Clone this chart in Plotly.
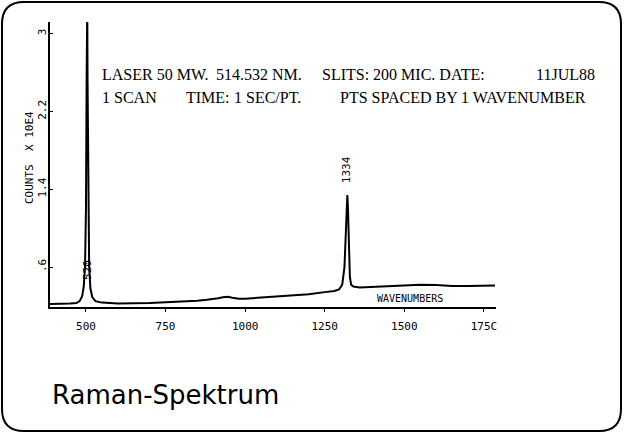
import plotly.graph_objects as go

# ---- data ----
wavenumbers = [387, 420, 450, 470, 480, 488, 493, 497, 500, 502, 503, 504, 505, 507, 510, 514, 520, 530, 550,
               600, 650, 700, 750, 800, 850, 880, 900, 915, 930, 945, 960, 980, 1000, 1050, 1100, 1150, 1200,
               1250, 1280, 1295, 1305, 1312, 1316, 1319, 1321, 1323, 1326, 1329, 1333, 1340, 1360, 1400, 1450,
               1500, 1550, 1600, 1650, 1700, 1750, 1785]
counts = [0.22, 0.22, 0.225, 0.23, 0.25, 0.30, 0.40, 0.60, 1.2, 2.5, 3.3, 3.3, 2.5, 1.2, 0.6, 0.38, 0.29, 0.25, 0.235,
          0.225, 0.225, 0.23, 0.24, 0.245, 0.255, 0.265, 0.27, 0.28, 0.29, 0.295, 0.285, 0.275, 0.275, 0.285, 0.295,
          0.305, 0.32, 0.343, 0.355, 0.37, 0.42, 0.6, 0.9, 1.25, 1.34, 1.2, 0.8, 0.5, 0.42, 0.40, 0.39, 0.395, 0.405,
          0.415, 0.42, 0.415, 0.405, 0.405, 0.41, 0.41]

x_ticks = [500, 750, 1000, 1250, 1500, 1750]
x_ticktext = ["500", "750", "1000", "1250", "1500", "175C"]
y_ticks = [0.6, 1.4, 2.2, 3.0]
y_ticktext = [".6", "1.4", "2.2", "3"]

peak_labels = ["520", "1334"]
peak_label_x = [503, 1321]
peak_label_y = [0.57, 1.6]

header_line1 = ["LASER 50 MW.", "514.532 NM.", "SLITS: 200 MIC. DATE:", "11JUL88"]
header_line2 = ["1 SCAN", "TIME:", "1 SEC/PT.", "PTS SPACED BY 1 WAVENUMBER"]

# ---- layout geometry (pixels) ----
W, H = 624, 433
L, R, T, B = 50, 496, 22, 307


def xp(px):
    return (px - L) / (R - L)


def yp(py):
    return (B - py) / (B - T)


plotter_font = "DejaVu Sans Mono"
serif_font = "Liberation Serif"

fig = go.Figure()
fig.add_trace(go.Scatter(x=wavenumbers, y=counts, mode="lines",
                         line=dict(color="black", width=2), showlegend=False,
                         hoverinfo="skip"))

annotations = []
for t, x, y in zip(peak_labels, peak_label_x, peak_label_y):
    annotations.append(dict(x=x, y=y, xref="x", yref="y", text=t, showarrow=False,
                            textangle=-90, font=dict(family=plotter_font, size=11, color="black")))
annotations.append(dict(x=1517, y=0.28, xref="x", yref="y", text="WAVENUMBERS", showarrow=False,
                        font=dict(family=plotter_font, size=10, color="black")))
annotations.append(dict(x=xp(29), y=yp(158), xref="paper", yref="paper", text="COUNTS  X 10E4",
                        showarrow=False, textangle=-90, xanchor="center",
                        font=dict(family=plotter_font, size=11, color="black")))

line1_px = [100, 214, 320, 597]
line1_anchor = ["left", "left", "left", "right"]
line2_px = [100, 184, 232, 338]
line2_anchor = ["left", "left", "left", "left"]
for t, px, a in zip(header_line1, line1_px, line1_anchor):
    annotations.append(dict(x=xp(px), y=yp(74), xref="paper", yref="paper", text=t, showarrow=False,
                            xanchor=a, yanchor="middle",
                            font=dict(family=serif_font, size=16, color="black")))
for t, px, a in zip(header_line2, line2_px, line2_anchor):
    annotations.append(dict(x=xp(px), y=yp(97), xref="paper", yref="paper", text=t, showarrow=False,
                            xanchor=a, yanchor="middle",
                            font=dict(family=serif_font, size=16, color="black")))

annotations.append(dict(x=xp(50), y=yp(395), xref="paper", yref="paper", text="Raman-Spektrum",
                        showarrow=False, xanchor="left", yanchor="middle",
                        font=dict(family="DejaVu Sans", size=26, color="black")))

# rounded border
x0, y0, x1, y1, r = 2, 2, 621, 431, 22


def P(px, py):
    return f"{xp(px):.5f},{yp(py):.5f}"


path = (f"M {P(x0 + r, y0)} L {P(x1 - r, y0)} Q {P(x1, y0)} {P(x1, y0 + r)} "
        f"L {P(x1, y1 - r)} Q {P(x1, y1)} {P(x1 - r, y1)} "
        f"L {P(x0 + r, y1)} Q {P(x0, y1)} {P(x0, y1 - r)} "
        f"L {P(x0, y0 + r)} Q {P(x0, y0)} {P(x0 + r, y0)} Z")

fig.update_layout(
    width=W, height=H,
    margin=dict(l=L, r=W - R, t=T, b=H - B, pad=0),
    paper_bgcolor="white", plot_bgcolor="white",
    annotations=annotations,
    shapes=[dict(type="path", path=path, xref="paper", yref="paper",
                 line=dict(color="black", width=2), layer="above")],
    xaxis=dict(range=[387, 1788], tickvals=x_ticks, ticktext=x_ticktext, showgrid=False, zeroline=False,
               showline=True, linecolor="black", linewidth=2, ticks="outside", ticklen=3, tickcolor="black",
               ticklabelstandoff=5,
               tickfont=dict(family=plotter_font, size=11, color="black")),
    yaxis=dict(range=[0.19, 3.12], tickvals=y_ticks, ticktext=y_ticktext, showgrid=False, zeroline=False,
               showline=True, linecolor="black", linewidth=1.5, ticks="inside", ticklen=3, tickcolor="black",
               ticklabelstandoff=-2,
               tickangle=-90, tickfont=dict(family=plotter_font, size=11, color="black")),
)

fig.write_html("out.html", config={"displayModeBar": False},
               post_script="document.body.style.margin='0';document.body.style.padding='0';"
                           "document.documentElement.style.overflow='hidden';")
